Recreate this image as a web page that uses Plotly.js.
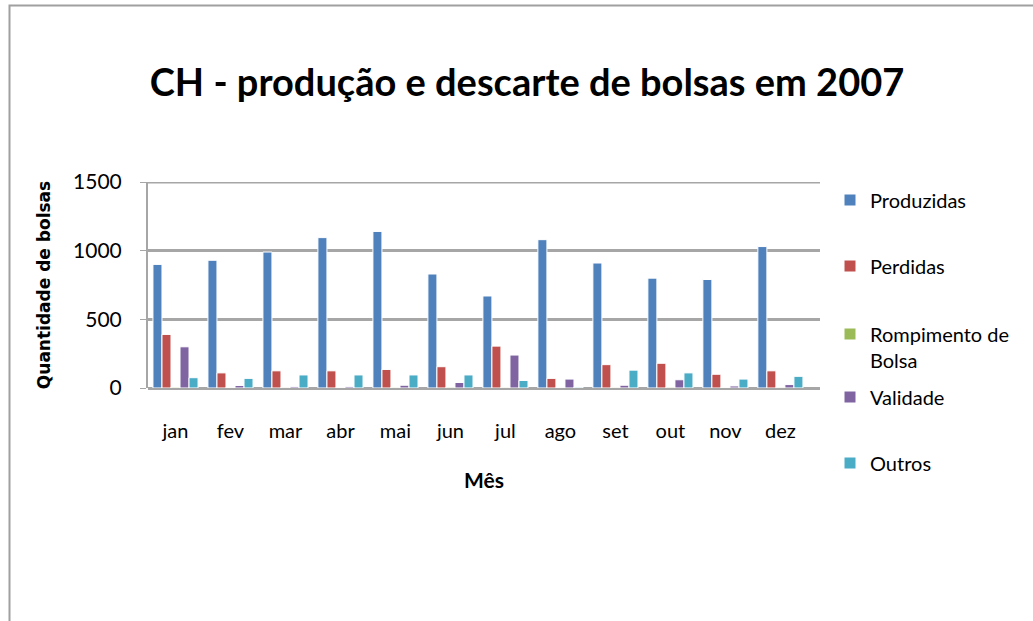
<!DOCTYPE html>
<html>
<head>
<meta charset="utf-8">
<script src="https://cdn.plot.ly/plotly-3.0.1.min.js"></script>
<style>html,body{margin:0;padding:0;background:#fff;}#chart{width:1033px;height:621px;}</style>
</head>
<body>
<div id="chart"></div>
<script>
const months = ['jan','fev','mar','abr','mai','jun','jul','ago','set','out','nov','dez'];
const produzidas = [900, 930, 990, 1095, 1140, 830, 670, 1080, 910, 800, 790, 1030];
const perdidas = [390, 110, 125, 125, 135, 155, 305, 70, 170, 180, 100, 125];
const rompimento = [6, 4, 5, 4, 5, 6, 5, 4, 5, 6, 4, 5];
const validade = [300, 18, 10, 10, 20, 40, 240, 65, 20, 60, 15, 25];
const outros = [75, 70, 95, 95, 95, 95, 55, 6, 130, 110, 65, 85];
const yTicks = [0, 500, 1000, 1500];

const seriesNames = ['Produzidas', 'Perdidas', 'Rompimento de<br>Bolsa', 'Validade', 'Outros'];
const seriesData = [produzidas, perdidas, rompimento, validade, outros];
const colors = ['#4F81BD', '#C0504D', '#9BBB59', '#8064A2', '#4BACC6'];

const W = 1033, H = 621;
const L = 148, R = 820, T = 182, B = 388;
const pw = R - L, ph = B - T;
const px = v => (v - L) / pw;
const py = v => (B - v) / ph;

const legendY = [200, 266, 347, 397, 463];
const legendIds = ['legend', 'legend2', 'legend3', 'legend4', 'legend5'];

const traces = seriesData.map((d, i) => ({
  type: 'bar',
  name: seriesNames[i],
  x: months,
  y: d,
  marker: {color: colors[i], line: {color: '#ffffff', width: 1}},
  legend: legendIds[i],
  hoverinfo: 'x+y+name'
}));

const legendFont = {family: 'Lato, sans-serif', size: 20, color: '#000'};
const layout = {
  width: W, height: H,
  margin: {l: L, r: W - R, t: T, b: H - B, pad: 0},
  paper_bgcolor: '#ffffff',
  plot_bgcolor: 'rgba(0,0,0,0)',
  barmode: 'group',
  bargap: 0.18,
  bargroupgap: 0,
  title: {
    text: 'CH - produção e descarte de bolsas em 2007',
    font: {family: 'Lato, sans-serif', size: 38, color: '#000', weight: 'bold'},
    x: px(527), xanchor: 'center', xref: 'paper',
    y: 1 - 83 / H, yanchor: 'middle', yref: 'container'
  },
  xaxis: {
    type: 'category',
    range: [-0.5, 11.72],
    showgrid: false,
    showline: false,
    ticks: '',
    tickfont: {family: 'Lato, sans-serif', size: 20, color: '#000'},
    ticklabelstandoff: 29,
    title: {text: 'Mês', font: {family: 'Lato, sans-serif', size: 21, color: '#000', weight: 'bold'}, standoff: 32},
    fixedrange: true
  },
  yaxis: {
    range: [0, 1500],
    tickvals: yTicks,
    ticktext: yTicks.map(String),
    showgrid: true,
    gridcolor: '#a6a6a6',
    gridwidth: 3,
    zeroline: true,
    zerolinecolor: '#a6a6a6',
    zerolinewidth: 3,
    showline: true,
    linecolor: '#a6a6a6',
    linewidth: 2,
    ticks: 'outside',
    ticklen: 6,
    tickcolor: '#a6a6a6',
    tickfont: {family: 'Lato, sans-serif', size: 21, color: '#000'},
    ticklabelstandoff: 14,
    title: {text: 'Quantidade de bolsas', font: {family: 'DejaVu Sans, sans-serif', size: 17, color: '#000', weight: 'bold'}, standoff: 18},
    fixedrange: true
  },
  shapes: [{
    type: 'rect', xref: 'paper', yref: 'paper',
    x0: px(9.5), x1: px(1100), y0: py(700), y1: py(5.5),
    line: {color: '#a0a0a0', width: 2}, fillcolor: 'rgba(0,0,0,0)', layer: 'below'
  }, {
    type: 'line', xref: 'paper', yref: 'y',
    x0: 0, x1: 1, y0: yTicks[yTicks.length - 1], y1: yTicks[yTicks.length - 1],
    line: {color: '#a6a6a6', width: 3}, layer: 'below'
  }],
  showlegend: true
};
legendIds.forEach((id, i) => {
  layout[id] = {
    x: px(830), xanchor: 'left',
    y: py(legendY[i]), yanchor: 'middle',
    font: legendFont,
    bgcolor: 'rgba(0,0,0,0)',
    borderwidth: 0,
    valign: 'top'
  };
});

Plotly.newPlot('chart', traces, layout, {displayModeBar: false, staticPlot: true});
</script>
</body>
</html>
